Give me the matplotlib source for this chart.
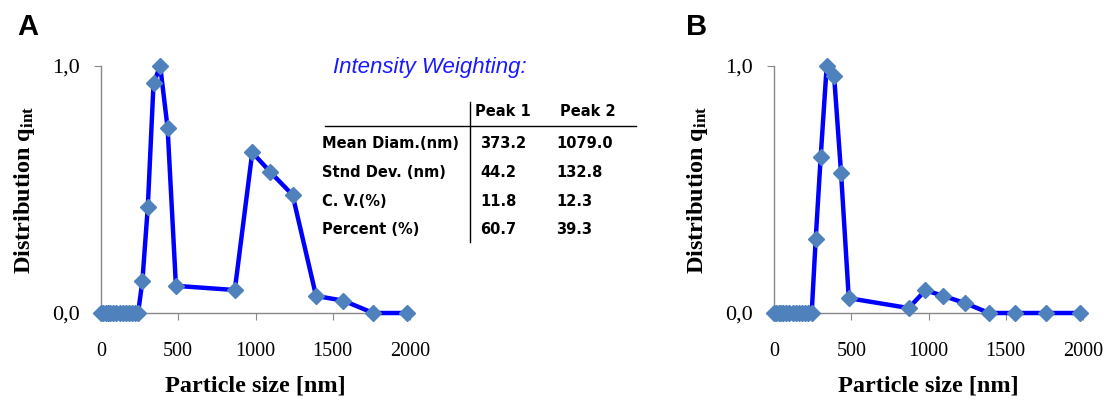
import matplotlib
matplotlib.use("Agg")
import matplotlib.pyplot as plt

# particle size distribution data
size_a = [0, 15, 30, 45, 60, 80, 100, 120, 140, 160, 180, 200, 220, 240,
          268, 303, 340, 383, 431, 485, 866, 979, 1097, 1240, 1392, 1569, 1762, 1981]
q_a = [0, 0, 0, 0, 0, 0, 0, 0, 0, 0, 0, 0, 0, 0,
       0.13, 0.43, 0.93, 1.0, 0.75, 0.11, 0.093, 0.65, 0.57, 0.478, 0.069, 0.05, 0.0, 0.0]

size_b = [0, 15, 30, 45, 60, 80, 100, 120, 140, 160, 180, 200, 220, 244,
          270, 302, 341, 389, 434, 484, 872, 980, 1097, 1237, 1392, 1561, 1760, 1978]
q_b = [0, 0, 0, 0, 0, 0, 0, 0, 0, 0, 0, 0, 0, 0,
       0.30, 0.63, 1.0, 0.96, 0.567, 0.06, 0.02, 0.092, 0.069, 0.04, 0.0, 0.0, 0.0, 0.0]

# summary table shown in panel A
table_cols = ["Peak 1", "Peak 2"]
table_rows = ["Mean Diam.(nm)", "Stnd Dev. (nm)", "C. V.(%)", "Percent (%)"]
peak1 = ["373.2", "44.2", "11.8", "60.7"]
peak2 = ["1079.0", "132.8", "12.3", "39.3"]

plt.rcParams["mathtext.fontset"] = "custom"
plt.rcParams["mathtext.rm"] = "Liberation Serif"
plt.rcParams["mathtext.bf"] = "Liberation Serif:bold"

fig = plt.figure(figsize=(11.13, 4.03), dpi=100)
ax_a = fig.add_axes([101 / 1113, 90 / 403, 309 / 1113, 247 / 403])
ax_b = fig.add_axes([774 / 1113, 90 / 403, 309 / 1113, 247 / 403])


def style_axis(ax, x, y):
    ax.plot(x, y, color="#0000FF", lw=3.2, marker="D", ms=8,
            mfc="#4F81BD", mec="#4F81BD", clip_on=False, zorder=3)
    ax.set_xlim(0, 2000)
    ax.set_ylim(0, 1)
    ax.set_xticks([0, 500, 1000, 1500, 2000])
    ax.set_yticks([0, 1])
    ax.set_yticklabels(["0,0", "1,0"])
    for s in ["top", "right"]:
        ax.spines[s].set_visible(False)
    for s in ["left", "bottom"]:
        ax.spines[s].set_color("#888888")
        ax.spines[s].set_linewidth(1)
    ax.tick_params(axis="x", direction="out", length=5, color="#888888", pad=16)
    ax.tick_params(axis="y", direction="out", length=5, color="#888888", pad=10)
    for lab in ax.get_xticklabels():
        lab.set_fontfamily("Liberation Serif")
        lab.set_fontsize(14.5)
    for lab in ax.get_yticklabels():
        lab.set_fontfamily("Liberation Serif")
        lab.set_fontsize(16)
    ax.set_xlabel("Particle size [nm]", fontfamily="Liberation Serif",
                  fontweight="bold", fontsize=17.5, labelpad=10)
    ax.set_ylabel(r"Distribution $\mathbf{q_{int}}$", fontfamily="Liberation Serif",
                  fontweight="bold", fontsize=17.5, labelpad=11)


style_axis(ax_a, size_a, q_a)
style_axis(ax_b, size_b, q_b)

fig.text(17 / 1113, 1 - 27 / 403, "A", fontfamily="Liberation Sans",
         fontweight="bold", fontsize=21, va="center")
fig.text(686 / 1113, 1 - 27 / 403, "B", fontfamily="Liberation Sans",
         fontweight="bold", fontsize=21, va="center")

# table inset
fig.text(333 / 1113, 1 - 68 / 403, "Intensity Weighting:", color="#1a1aff",
         fontfamily="Liberation Sans", style="italic", fontsize=16, va="center")
fig.add_artist(plt.Line2D([325 / 1113, 636 / 1113], [1 - 126 / 403, 1 - 126 / 403],
                          color="black", lw=1))
fig.add_artist(plt.Line2D([470 / 1113, 470 / 1113], [1 - 102 / 403, 1 - 242 / 403],
                          color="black", lw=1))
fig.text(503 / 1113, 1 - 112 / 403, table_cols[0], ha="center", va="center",
         fontfamily="DejaVu Sans", fontweight="bold", fontsize=10.5)
fig.text(588 / 1113, 1 - 112 / 403, table_cols[1], ha="center", va="center",
         fontfamily="DejaVu Sans", fontweight="bold", fontsize=10.5)
row_y = [143, 173, 202, 230]
for i in range(len(table_rows)):
    yy = 1 - row_y[i] / 403
    fig.text(322 / 1113, yy, table_rows[i], va="center",
             fontfamily="DejaVu Sans", fontweight="bold", fontsize=10.5)
    fig.text(480 / 1113, yy, peak1[i], va="center",
             fontfamily="DejaVu Sans", fontweight="bold", fontsize=10.5)
    fig.text(556 / 1113, yy, peak2[i], va="center",
             fontfamily="DejaVu Sans", fontweight="bold", fontsize=10.5)

fig.savefig("out.png", dpi=100)
